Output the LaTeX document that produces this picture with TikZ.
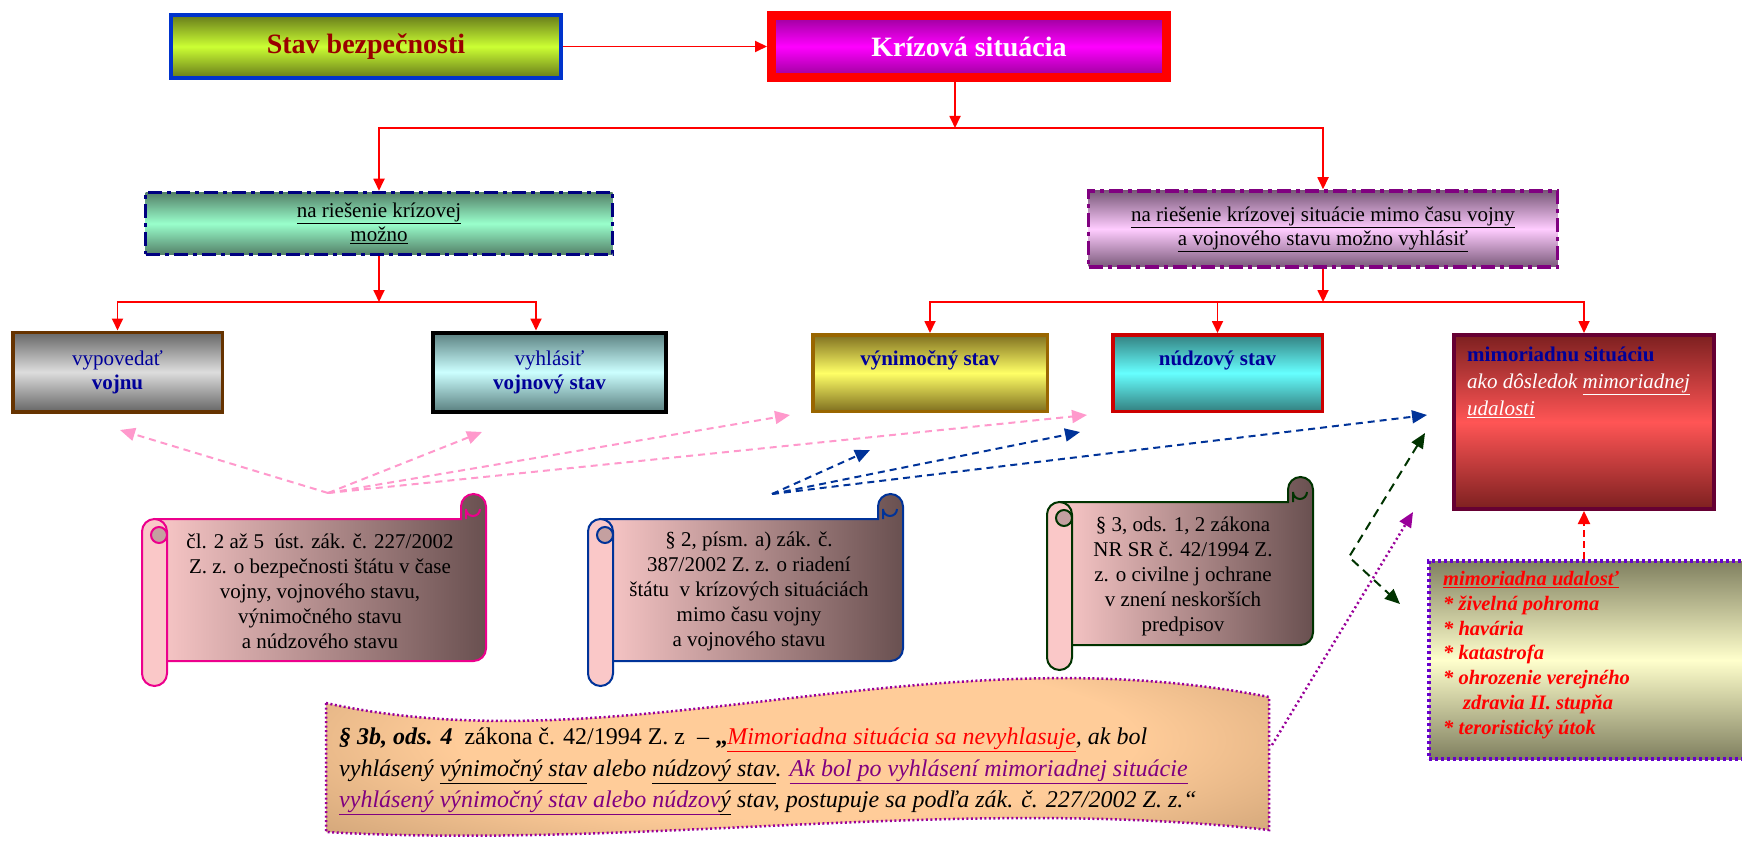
\documentclass[tikz,border=0pt]{standalone}
\usepackage{fontspec}
\setmainfont{Liberation Serif}
\usetikzlibrary{arrows.meta}

% colours of the boxes
\definecolor{stavblue}{RGB}{0,51,204}
\definecolor{stavtext}{RGB}{153,0,0}
\definecolor{limedark}{RGB}{102,122,26}
\definecolor{limelight}{RGB}{204,255,51}
\definecolor{magdark}{RGB}{153,0,153}
\definecolor{maglight}{RGB}{255,0,255}
\definecolor{mintdark}{RGB}{84,128,104}
\definecolor{mintlight}{RGB}{153,255,204}
\definecolor{lilacdark}{RGB}{122,90,122}
\definecolor{lilaclight}{RGB}{255,204,255}
\definecolor{borderpurple}{RGB}{128,0,128}
\definecolor{bordernavy}{RGB}{0,0,128}
\definecolor{textnavy}{RGB}{0,0,153}
\definecolor{graydark}{RGB}{102,102,102}
\definecolor{graylight}{RGB}{221,221,221}
\definecolor{borderbrown}{RGB}{102,51,0}
\definecolor{cyandark}{RGB}{90,128,128}
\definecolor{cyanlight}{RGB}{204,255,255}
\definecolor{yellowdark}{RGB}{128,112,32}
\definecolor{yellowlight}{RGB}{255,255,102}
\definecolor{bordergold}{RGB}{153,102,0}
\definecolor{aquadark}{RGB}{51,128,128}
\definecolor{aqualight}{RGB}{102,255,255}
\definecolor{borderred}{RGB}{204,0,0}
\definecolor{reddark}{RGB}{125,32,32}
\definecolor{redlight}{RGB}{255,85,85}
\definecolor{bordermaroon}{RGB}{102,0,51}
\definecolor{olivedark}{RGB}{128,128,96}
\definecolor{olivelight}{RGB}{255,255,204}
\definecolor{borderviolet}{RGB}{102,0,204}
\definecolor{scrollpink}{RGB}{250,200,200}
\definecolor{scrollbrown}{RGB}{105,80,80}
\definecolor{curlpink}{RGB}{196,160,160}
\definecolor{bannerlight}{RGB}{255,204,153}
\definecolor{bannerdark}{RGB}{128,96,64}
\definecolor{hintpink}{RGB}{255,153,204}
\definecolor{hintblue}{RGB}{0,51,153}
\definecolor{hintgreen}{RGB}{0,51,0}
\definecolor{hintpurple}{RGB}{153,0,153}
\definecolor{lawpurple}{RGB}{128,0,128}

\pgfdeclareradialshading{bannershade}{\pgfpoint{0bp}{0bp}}{color(0bp)=(bannerlight); color(18bp)=(bannerlight); color(62bp)=(bannerdark)}

\newcommand\fsz[2]{\fontsize{#1}{#2}\selectfont}

% scroll: x, y, width, height, border colour
\newcommand\scrollpic[5]{%
  \begin{scope}[shift={(#1,#2)}, line width=2pt]
    \draw[#5, left color=scrollpink, right color=scrollbrown] (12.5,25) -- (#3-25,25) -- (#3-25,12.5) arc (180:360:12.5) -- (#3,#4-37.5) arc (0:90:12.5) -- (12.5,#4-25) -- cycle;
    \draw[#5] (#3-20,25) -- (#3-20,15) arc (180:0:7);
    \draw[#5, fill=scrollpink] (0,37.5) arc (180:360:12.5) -- (25,#4-12.5) arc (0:180:12.5) -- cycle;
    \draw[#5, fill=curlpink] (17,41) circle (8);
  \end{scope}}

\tikzset{
  box/.style={draw, rectangle, inner sep=0pt, align=center},
  ddline/.style={dash pattern=on 14pt off 5pt on 4pt off 5pt},
  tree/.style={red, line width=1.8pt, -{Triangle[length=12pt,width=11pt]}},
  hint/.style={line width=2pt, dash pattern=on 7pt off 5pt},
  tip/.style={-{Triangle[length=15pt,width=13pt]}},
  lawtext/.style={align=center, inner sep=0pt, font=\fsz{21}{25}}
}

\begin{document}
\begin{tikzpicture}[x=1pt, y=-1pt]
  \useasboundingbox (0,0) rectangle (1742,842);

  % Row 0 - Stav bezpecnosti, Krizova situacia
  \node[box, draw=stavblue, line width=4pt, minimum width=390pt, minimum height=63pt,
        top color=limedark, bottom color=limedark, middle color=limelight,
        font=\fsz{28}{32}\bfseries, text=stavtext] (stav) at (366,46.5) {Stav bezpečnosti};
  \node[box, draw=red, line width=9pt, minimum width=395pt, minimum height=62pt,
        top color=magdark, bottom color=magdark, middle color=maglight,
        font=\fsz{28}{32}\bfseries, text=white] (kriza) at (969,46.5) {Krízová situácia};

  % Row 1 - na rieseni
  \node[box, draw=bordernavy, line width=3.5pt, ddline, minimum width=467pt, minimum height=62pt,
        top color=mintdark, bottom color=mintdark, middle color=mintlight,
        font=\fsz{21}{24}] (rieseniL) at (379,223.5) {\underline{na riešenie krízovej}\\\underline{možno}};
  \node[box, draw=borderpurple, line width=3.5pt, ddline, minimum width=469pt, minimum height=76pt,
        top color=lilacdark, bottom color=lilacdark, middle color=lilaclight,
        font=\fsz{21}{24}] (rieseniR) at (1323,229) {\underline{na riešenie krízovej situácie mimo času vojny}\\\underline{a vojnového stavu možno vyhlásiť}};

  % Row 2 - stavy
  \node[box, draw=borderbrown, line width=3.5pt, minimum width=209.5pt, minimum height=79.5pt,
        top color=graydark, bottom color=graydark, middle color=graylight,
        font=\fsz{21}{24}, text=textnavy] (vojnu) at (117.5,372) {vypovedať\\\textbf{vojnu}};
  \node[box, draw=black, line width=4pt, minimum width=233pt, minimum height=79pt,
        top color=cyandark, bottom color=cyandark, middle color=cyanlight,
        font=\fsz{21}{24}, text=textnavy] (vojnovy) at (549.5,372) {vyhlásiť\\\textbf{vojnový stav}};
  \node[box, draw=bordergold, line width=3.5pt, minimum width=234.5pt, minimum height=76.5pt,
        top color=yellowdark, bottom color=yellowdark, middle color=yellowlight] (vynimocny) at (930,373) {};
  \node[font=\fsz{21}{24}\bfseries, text=textnavy, anchor=base, inner sep=0pt] (vynimocnyt) at (930,365) {výnimočný stav};
  \node[box, draw=borderred, line width=3.5pt, minimum width=209.5pt, minimum height=76.5pt,
        top color=aquadark, bottom color=aquadark, middle color=aqualight] (nudzovy) at (1217.5,373) {};
  \node[font=\fsz{21}{24}\bfseries, text=textnavy, anchor=base, inner sep=0pt] (nudzovyt) at (1217.5,365) {núdzový stav};
  \node[box, draw=bordermaroon, line width=4pt, minimum width=260pt, minimum height=174pt,
        top color=reddark, bottom color=reddark, middle color=redlight] (mimo) at (1584,422) {};
  \node[anchor=north west, align=left, inner sep=0pt, font=\fsz{21}{27}] (mimot) at (1467,347)
    {\textcolor{textnavy}{\textbf{mimoriadnu situáciu}}\\
     \textcolor{white}{\textit{ako dôsledok \underline{mimoriadnej}}}\\
     \textcolor{white}{\textit{\underline{udalosti}}}};

  % mimoriadna udalost
  \node[box, draw=borderviolet, line width=4pt, dash pattern=on 3pt off 3pt, minimum width=318pt, minimum height=198pt,
        top color=olivedark, bottom color=olivedark, middle color=olivelight] (udalost) at (1588,660) {};
  \node[anchor=north west, align=left, inner sep=0pt, text=red, font=\fsz{20.5}{24.8}\bfseries\itshape] (udalostt) at (1443,571)
    {\underline{mimoriadna udalosť}\\
     * živelná pohroma\\
     * havária\\
     * katastrofa\\
     * ohrozenie verejného\\
     \hspace*{20pt}zdravia II. stupňa\\
     * teroristický útok};

  % tree connectors
  \coordinate (topjoin) at (955,128);
  \coordinate (leftjoin) at (379,302);
  \coordinate (rightjoin) at (1323,302);
  \draw[tree] (stav) -- (kriza);
  \draw[tree] ([xshift=-14pt]kriza.south) -- (topjoin);
  \draw[tree] (topjoin) -| (rieseniL.north);
  \draw[tree] (topjoin) -| (rieseniR.north);
  \draw[tree] (rieseniL.south) -- (leftjoin);
  \draw[tree] (leftjoin) -| (vojnu.north);
  \draw[tree] (leftjoin) -| ([xshift=-13.5pt]vojnovy.north);
  \draw[tree] (rieseniR.south) -- (rightjoin);
  \draw[tree] (rightjoin) -| (vynimocny.north);
  \draw[tree] (rightjoin) -| (nudzovy.north);
  \draw[tree] (rightjoin) -| (mimo.north);

  % scrolls with the laws
  \scrollpic{142}{494}{344}{192}{magenta}
  \node[lawtext] (zakon1) at (320,591) {čl. 2 až 5\ \ úst. zák. č. 227/2002\\Z. z. o bezpečnosti štátu v čase\\vojny, vojnového stavu,\\výnimočného stavu\\a núdzového stavu};
  \scrollpic{588}{494}{315}{192}{hintblue}
  \node[lawtext] (zakon2) at (749,591) {§ 2, písm. a) zák. č.\\387/2002 Z. z. o riadení\\štátu\ \ v krízových situáciách\\mimo času vojny\\a vojnového stavu};
  \scrollpic{1047}{477}{266}{193}{hintgreen}
  \node[lawtext] (zakon3) at (1183,576) {§ 3, ods. 1, 2 zákona\\NR SR č. 42/1994 Z.\\z. o civilne j ochrane\\v znení neskorších\\predpisov};

  % banner
  \draw[hintpurple, line width=2.5pt, dash pattern=on 2pt off 2.5pt, shading=bannershade]
    (326,703) .. controls (620,768) and (930,630) .. (1269,697) -- (1269,830)
    .. controls (955,795) and (640,850) .. (326,832) -- cycle;
  \node[anchor=north west, align=left, inner sep=0pt, font=\fsz{24}{31.5}] (paragraf) at (339,728)
    {\textbf{\textit{§ 3b, ods. 4}}\ \ zákona č. 42/1994 Z. z\ \ – \textbf{„}\textcolor{red}{\textit{\underline{Mimoriadna situácia sa nevyhlasuje}}}\textit{, ak bol}\\
     \textit{vyhlásený \underline{výnimočný stav} alebo \underline{núdzový stav}. \textcolor{lawpurple}{\underline{Ak bol po vyhlásení mimoriadnej situácie}}}\\
     \textit{\textcolor{lawpurple}{\underline{vyhlásený výnimočný stav alebo núdzov}}\underline{ý} stav, postupuje sa podľa zák. č. 227/2002 Z. z.“}};

  % hint arrows
  \coordinate (pinkhub) at (328,493);
  \coordinate (pink1) at (120,430);
  \coordinate (pink2) at (482,432);
  \coordinate (pink3) at (790,415);
  \coordinate (pink4) at (1087,415);
  \foreach \t in {pink1,pink2,pink3,pink4}
    \draw[hint, tip, hintpink] (pinkhub) -- (\t);
  \coordinate (bluehub) at (772,494);
  \coordinate (blue1) at (870,450);
  \coordinate (blue2) at (1080,432);
  \coordinate (blue3) at (1427,415);
  \foreach \t in {blue1,blue2,blue3}
    \draw[hint, tip, hintblue] (bluehub) -- (\t);
  \coordinate (green1) at (1425,433);
  \coordinate (greencorner) at (1349,557);
  \coordinate (green2) at (1400,604);
  \draw[hintgreen, line width=2pt, dash pattern=on 9pt off 6pt,
        {Triangle[length=15pt,width=13pt]}-{Triangle[length=15pt,width=13pt]}] (green1) -- (greencorner) -- (green2);
  \coordinate (purple0) at (1272,745);
  \coordinate (purple1) at (1413,512);
  \draw[hintpurple, line width=2.5pt, dash pattern=on 2pt off 3pt, tip] (purple0) -- (purple1);
  \draw[red, line width=2pt, dash pattern=on 7pt off 4pt, -{Triangle[length=13pt,width=12pt]}] (udalost.north -| mimo) -- (mimo.south);
\end{tikzpicture}
\end{document}
